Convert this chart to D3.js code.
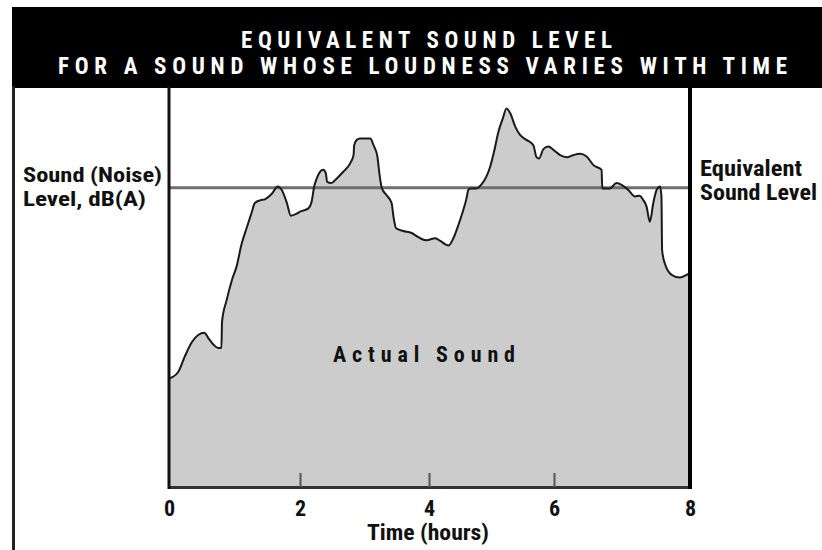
<!DOCTYPE html>
<html>
<head>
<meta charset="utf-8">
<script src="https://cdn.jsdelivr.net/npm/d3@7"></script>
<style>
  html, body { margin: 0; padding: 0; background: #fff; }
  svg { display: block; }
  .cond { font-family: "Liberation Sans Narrow", "Roboto Condensed", "DejaVu Sans Condensed", "Liberation Sans", sans-serif; font-weight: bold; font-stretch: condensed; }
</style>
</head>
<body>
<svg id="chart" width="822" height="550"></svg>
<script>
// ---- data ----
const titleLines = ["EQUIVALENT SOUND LEVEL", "FOR A SOUND WHOSE LOUDNESS VARIES WITH TIME"];
const yLabelLines = ["Sound (Noise)", "Level, dB(A)"];
const eqLabelLines = ["Equivalent", "Sound Level"];
const xTitle = "Time (hours)";
const areaLabel = "Actual Sound";
const xTicks = [0, 2, 4, 6, 8];
const xTickPositions = [0, 2, 4, 6, 8];
const equivalentLevel = 75; // dB(A)

const hours = [
  0, 0.14, 0.24, 0.35, 0.45, 0.54, 0.60, 0.68, 0.75, 0.80,
  0.81, 0.88, 0.96, 1.03, 1.11, 1.19, 1.26, 1.31, 1.39, 1.47,
  1.57, 1.66, 1.72, 1.80, 1.86, 1.95, 2.00, 2.13, 2.18, 2.22,
  2.26, 2.31, 2.36, 2.40, 2.42, 2.48, 2.57, 2.67, 2.78, 2.83,
  2.84, 2.88, 2.93, 3.09, 3.14, 3.20, 3.23, 3.27, 3.34, 3.42,
  3.45, 3.49, 3.60, 3.73, 3.83, 3.96, 4.10, 4.18, 4.26, 4.31,
  4.39, 4.47, 4.55, 4.60, 4.63, 4.66, 4.76, 4.84, 4.92, 4.98,
  5.04, 5.11, 5.18, 5.24, 5.30, 5.38, 5.46, 5.56, 5.67, 5.72,
  5.76, 5.83, 5.91, 5.99, 6.09, 6.19, 6.28, 6.38, 6.48, 6.58,
  6.70, 6.71, 6.82, 6.92, 7.00, 7.09, 7.19, 7.26, 7.31, 7.36,
  7.41, 7.46, 7.51, 7.56, 7.58, 7.59, 7.63, 7.73, 7.85, 7.95,
  8.00
];
const soundLevel = [
  46.3, 47.3, 49.6, 51.8, 52.9, 53.2, 52.4, 51.4, 50.9, 50.9,
  54.9, 58.1, 61.1, 63.1, 66.6, 69.1, 71.2, 72.7, 73.1, 73.3,
  74.1, 75.2, 74.7, 72.7, 70.8, 71.1, 71.4, 71.9, 72.9, 75.2,
  76.4, 77.4, 77.7, 77.2, 75.9, 75.7, 76.4, 77.4, 78.7, 79.9,
  81.4, 82.2, 82.4, 82.4, 81.4, 79.7, 77.2, 74.9, 73.9, 72.7,
  70.6, 68.9, 68.5, 68.2, 67.6, 67.1, 67.4, 67.0, 66.5, 66.3,
  67.4, 69.4, 71.7, 73.4, 74.7, 74.9, 74.9, 75.5, 76.7, 78.2,
  80.4, 83.4, 85.4, 86.9, 86.2, 84.2, 82.9, 82.2, 81.4, 79.6,
  79.4, 80.8, 81.2, 80.7, 79.9, 79.6, 79.9, 80.1, 79.7, 78.4,
  77.7, 74.9, 74.9, 75.7, 75.4, 74.7, 73.7, 73.8, 73.2, 72.2,
  69.9, 72.7, 74.7, 75.2, 73.7, 65.6, 63.6, 61.9, 61.5, 61.9,
  62.2
];

// ---- drawing ----
const svg = d3.select("#chart");
const x = d3.scaleLinear().domain(xTickPositions).range([169, 300, 429, 554, 690]);
const y = d3.scaleLinear().domain([30, 90]).range([487, 88]);
const data = hours.map((h, i) => ({ h, v: soundLevel[i] }));

// header band
svg.append("rect").attr("x", 12).attr("y", 7).attr("width", 810).attr("height", 81).attr("fill", "#000");
const titleSpecs = [{ x: 241, y: 48, len: 371 }, { x: 58, y: 74, len: 729 }];
titleLines.forEach((t, i) => {
  svg.append("text").attr("class", "cond")
    .attr("x", titleSpecs[i].x).attr("y", titleSpecs[i].y)
    .attr("font-size", 23).attr("fill", "#fff")
    .attr("textLength", titleSpecs[i].len).attr("lengthAdjust", "spacing")
    .text(t);
});

// outer left border
svg.append("line").attr("x1", 13.5).attr("x2", 13.5).attr("y1", 86).attr("y2", 550)
  .attr("stroke", "#222").attr("stroke-width", 3);

// area
const area = d3.area().x(d => x(d.h)).y0(y(30)).y1(d => y(d.v)).curve(d3.curveMonotoneX);
const line = d3.line().x(d => x(d.h)).y(d => y(d.v)).curve(d3.curveMonotoneX);
svg.append("path").datum(data).attr("d", area).attr("fill", "#cccccc");

// equivalent level line
svg.append("line").attr("x1", x(0)).attr("x2", x(8)).attr("y1", y(equivalentLevel)).attr("y2", y(equivalentLevel))
  .attr("stroke", "#6e6e6e").attr("stroke-width", 3);

svg.append("path").datum(data).attr("d", line).attr("fill", "none")
  .attr("stroke", "#1a1a1a").attr("stroke-width", 2).attr("stroke-linejoin", "round");

// x axis
const xAxis = d3.axisBottom(x).tickValues(xTicks).tickSizeInner(-14).tickSizeOuter(0).tickFormat(d3.format("d"));
const gx = svg.append("g").attr("transform", `translate(0,${y(30)})`).call(xAxis);
gx.select(".domain").attr("stroke", "#333").attr("stroke-width", 3);
gx.selectAll(".tick line").attr("stroke", "#555").attr("stroke-width", 2)
  .attr("display", d => (d === 0 || d === 8) ? "none" : null);
gx.selectAll(".tick text").attr("class", "cond").attr("font-size", 22).attr("fill", "#111")
  .attr("y", 29).attr("dy", 0);

// plot frame verticals
svg.append("line").attr("x1", 169).attr("x2", 169).attr("y1", 86).attr("y2", 489)
  .attr("stroke", "#111").attr("stroke-width", 3);
svg.append("line").attr("x1", 690).attr("x2", 690).attr("y1", 86).attr("y2", 489)
  .attr("stroke", "#000").attr("stroke-width", 4);

// labels
const yLabelSpecs = [{ y: 182, len: 139 }, { y: 206, len: 123 }];
yLabelLines.forEach((t, i) => {
  svg.append("text").attr("class", "cond").attr("x", 23).attr("y", yLabelSpecs[i].y)
    .attr("font-size", 21).attr("fill", "#111")
    .attr("textLength", yLabelSpecs[i].len).attr("lengthAdjust", "spacingAndGlyphs").text(t);
});
const eqSpecs = [{ y: 176, len: 102 }, { y: 200, len: 117 }];
eqLabelLines.forEach((t, i) => {
  svg.append("text").attr("class", "cond").attr("x", 700).attr("y", eqSpecs[i].y)
    .attr("font-size", 22).attr("fill", "#111")
    .attr("textLength", eqSpecs[i].len).attr("lengthAdjust", "spacingAndGlyphs").text(t);
});
svg.append("text").attr("class", "cond").attr("x", 367).attr("y", 540)
  .attr("font-size", 22).attr("fill", "#111")
  .attr("textLength", 122).attr("lengthAdjust", "spacingAndGlyphs").text(xTitle);
svg.append("text").attr("class", "cond").attr("x", 333).attr("y", 362)
  .attr("font-size", 22).attr("fill", "#111")
  .attr("textLength", 182).attr("lengthAdjust", "spacing").text(areaLabel);
</script>
</body>
</html>
